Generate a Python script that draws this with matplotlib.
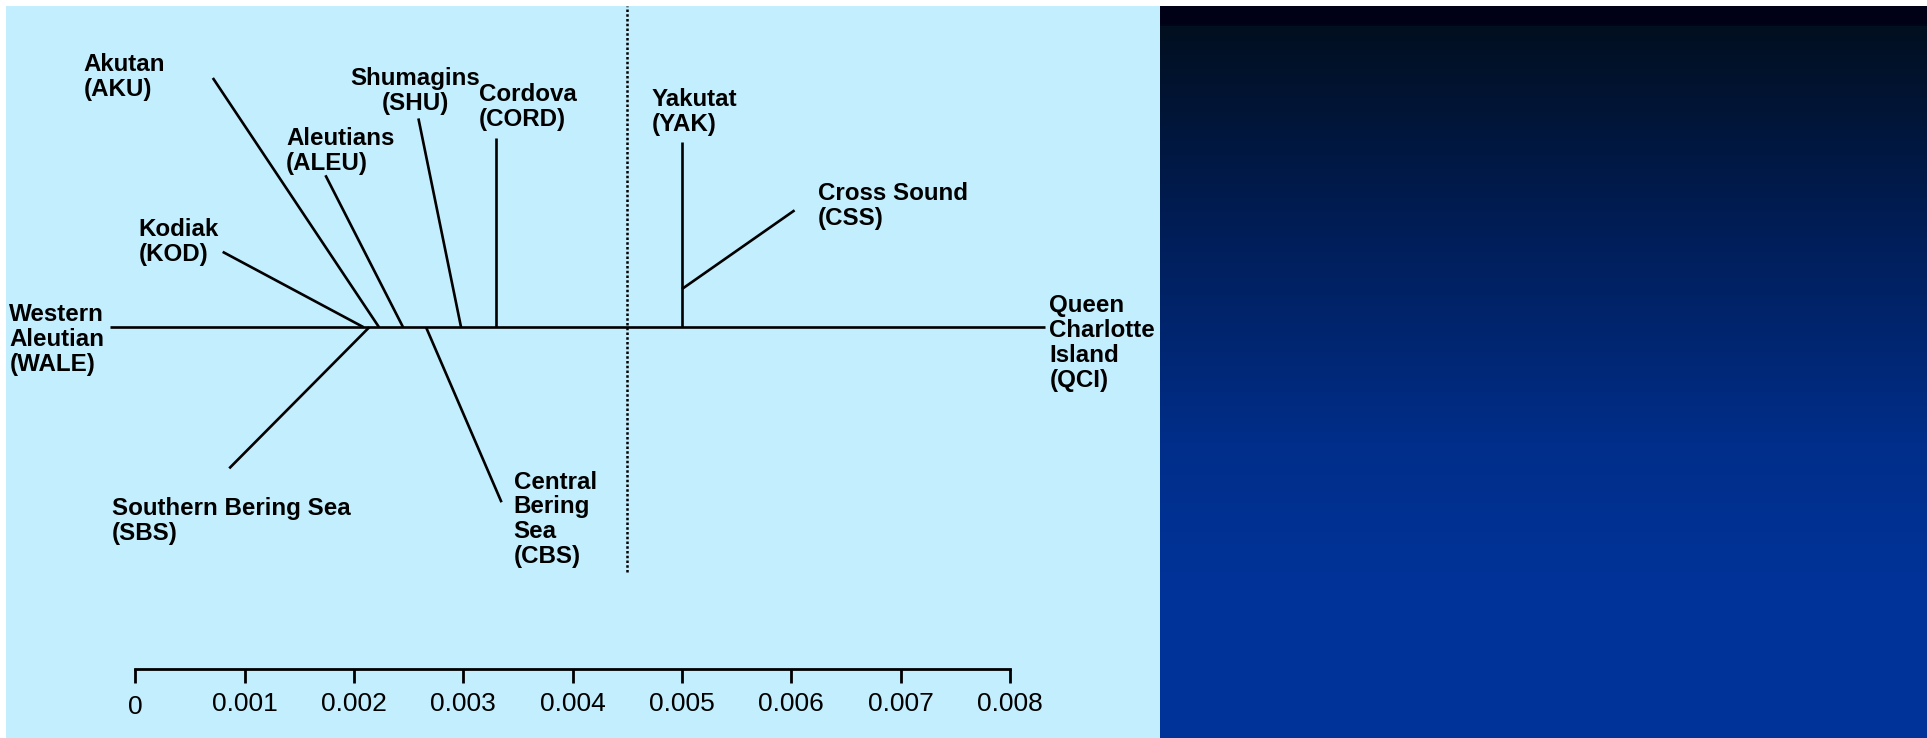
import numpy as np
import matplotlib.pyplot as plt
from matplotlib.colors import LinearSegmentedColormap
from matplotlib.patches import Rectangle
from matplotlib.transforms import ScaledTranslation

plt.rcParams['font.family'] = ['Liberation Sans', 'DejaVu Sans']

# genetic distance tree (unrooted), x and y both in distance units
backbone = [-0.00023, 0.00832]          # WALE ... QCI
names = ['KOD', 'AKU', 'ALEU', 'SHU', 'CORD', 'YAK', 'SBS', 'CBS']
node_x = [0.00209, 0.00223, 0.00245, 0.00298, 0.00330, 0.00500, 0.00214, 0.00266]
tip_x = [0.00080, 0.00071, 0.00174, 0.00259, 0.00330, 0.00500, 0.00086, 0.00335]
tip_y = [0.00069, 0.00228, 0.00139, 0.00191, 0.00173, 0.00169, -0.00129, -0.00160]
# Cross Sound splits off the Yakutat branch
css_base = [0.00500, 0.00035]
css_tip = [0.00603, 0.00107]
cutoff = 0.0045
cutoff_span = [-0.00224, 0.00294]

scale_ticks = [0, 0.001, 0.002, 0.003, 0.004, 0.005, 0.006, 0.007, 0.008]
scale_labels = ['0', '0.001', '0.002', '0.003', '0.004', '0.005', '0.006', '0.007', '0.008']

labels = {
    'Akutan\n(AKU)': (-0.00047, 0.00251, 'left'),
    'Kodiak\n(KOD)': (0.00003, 0.00100, 'left'),
    'Aleutians\n(ALEU)': (0.00138, 0.00183, 'left'),
    'Shumagins\n(SHU)': (0.00256, 0.00238, 'center'),
    'Cordova\n(CORD)': (0.00314, 0.00223, 'left'),
    'Yakutat\n(YAK)': (0.00472, 0.00219, 'left'),
    'Cross Sound\n(CSS)': (0.00624, 0.00133, 'left'),
    'Queen\nCharlotte\nIsland\n(QCI)': (0.00836, 0.00030, 'left'),
    'Western\nAleutian\n(WALE)': (-0.00115, 0.00022, 'left'),
    'Southern Bering Sea\n(SBS)': (-0.00021, -0.00155, 'left'),
    'Central\nBering\nSea\n(CBS)': (0.00346, -0.00131, 'left'),
}

W, H = 1927, 738
fig = plt.figure(figsize=(W / 100, H / 100), dpi=100)

# background panels, in pixel units
bg = fig.add_axes([0, 0, 1, 1], zorder=0)
bg.set_xlim(0, W)
bg.set_ylim(H, 0)
bg.axis('off')
bg.add_patch(Rectangle((6, 6), 1154, H - 6, color='#c2eefd', lw=0))
grad = LinearSegmentedColormap.from_list(
    'sky', [(0, '#000016'), (0.022, '#000016'), (0.027, '#020f20'),
            (0.3, '#001d56'), (0.6, '#002e8a'), (0.8, '#003399'), (1, '#003399')])
bg.imshow(np.repeat(np.linspace(0, 1, 732)[:, None], 767, axis=1), cmap=grad,
          aspect='auto', extent=[1160, W, H, 6], interpolation='nearest')

ax = fig.add_axes([0, 0, 1, 1], zorder=1)
ax.patch.set_alpha(0)
px = 109.35e3  # pixels per unit distance
ax.set_xlim(-135.2 / px, (W - 135.2) / px)
ax.set_ylim(-(H - 327.3) / px, 327.3 / px)

lw = 1.9
ax.plot(backbone, [0, 0], color='black', lw=lw, solid_capstyle='butt')
for nx, tx, ty in zip(node_x, tip_x, tip_y):
    ax.plot([nx, tx], [0, ty], color='black', lw=lw, solid_capstyle='butt')
ax.plot([css_base[0], css_tip[0]], [css_base[1], css_tip[1]], color='black', lw=lw,
        solid_capstyle='butt')
ax.plot([cutoff, cutoff], cutoff_span, color='black', lw=1.8, ls=(0, (1.0, 0.9)))

for txt, (x, y, ha) in labels.items():
    ax.text(x, y, txt, ha=ha, va='top', multialignment=ha, fontsize=17.4,
            fontweight='bold', linespacing=1.1)

# scale bar
for s in ['top', 'left', 'right']:
    ax.spines[s].set_visible(False)
ax.spines['bottom'].set_position(('data', -(669.3 - 327.3) / px))
ax.spines['bottom'].set_bounds(0, 0.008)
ax.spines['bottom'].set_linewidth(2)
ax.set_yticks([])
ax.set_xticks(scale_ticks)
ax.set_xticklabels(scale_labels)
ax.tick_params(axis='x', direction='out', length=10, width=2, pad=6, labelsize=19)
# the "0" sits a little lower than the rest
zero = ax.get_xticklabels()[0]
zero.set_transform(zero.get_transform() + ScaledTranslation(0, -3 / 100, fig.dpi_scale_trans))

fig.savefig('out.png', dpi=100)
